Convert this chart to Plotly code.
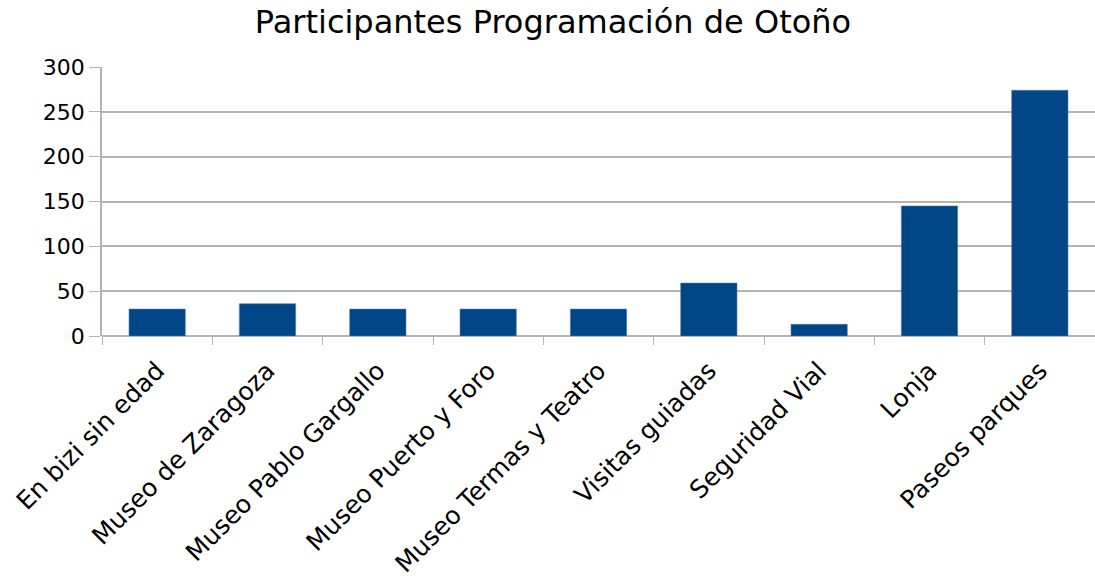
import plotly.graph_objects as go

categories = [
    "En bizi sin edad",
    "Museo de Zaragoza",
    "Museo Pablo Gargallo",
    "Museo Puerto y Foro",
    "Museo Termas y Teatro",
    "Visitas guiadas",
    "Seguridad Vial",
    "Lonja",
    "Paseos parques",
]
participantes = [30, 36, 30, 30, 30, 59, 13, 145, 274]
y_ticks = [0, 50, 100, 150, 200, 250, 300]

FONT = "DejaVu Sans"
GRID = "#b3b3b3"

fig = go.Figure(
    go.Bar(
        x=categories,
        y=participantes,
        marker=dict(color="#004586", line=dict(color="#4f79a8", width=0.6)),
        hoverinfo="x+y",
    )
)

fig.update_layout(
    width=1095,
    height=580,
    margin=dict(l=102, r=0, t=67, b=244),
    paper_bgcolor="white",
    plot_bgcolor="white",
    bargap=0.49,
    showlegend=False,
    title=dict(
        text="Participantes Programación de Otoño",
        x=0.505,
        xanchor="center",
        y=1 - 22 / 580,
        yanchor="middle",
        yref="container",
        font=dict(family=FONT, size=32, color="#000000"),
    ),
    xaxis=dict(
        type="category",
        tickangle=-45,
        tickson="boundaries",
        ticks="outside",
        ticklen=8,
        tickcolor=GRID,
        ticklabelstandoff=14,
        showline=False,
        showgrid=False,
        tickfont=dict(family=FONT, size=25, color="#000000"),
    ),
    yaxis=dict(
        range=[0, 300],
        tickvals=y_ticks,
        ticks="outside",
        ticklen=11,
        tickcolor=GRID,
        showline=True,
        linecolor=GRID,
        linewidth=1.5,
        showgrid=True,
        gridcolor=GRID,
        gridwidth=1.5,
        zeroline=True,
        zerolinecolor=GRID,
        zerolinewidth=1.5,
        tickfont=dict(family=FONT, size=22, color="#000000"),
    ),
)

fig.write_html("out.html")
